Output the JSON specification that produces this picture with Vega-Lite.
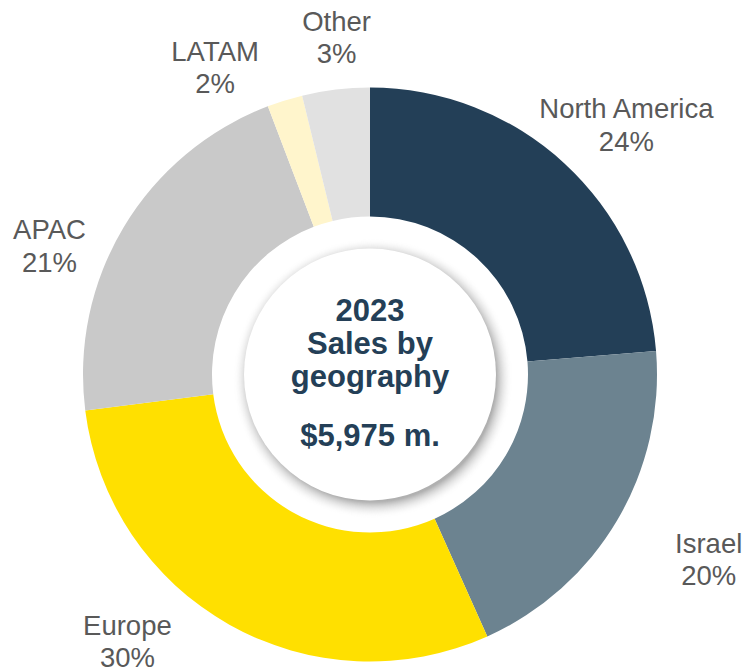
{
  "$schema": "https://vega.github.io/schema/vega-lite/v6.json",
  "autosize": "none",
  "width": 740,
  "height": 589,
  "padding": {"left": 0, "top": 80, "right": 5, "bottom": 0},
  "background": "white",
  "config": {"view": {"stroke": null}},
  "data": {
    "values": [
      {"region": "North America", "sales": 1416, "order": 1, "label": ["North America", "24%"]},
      {"region": "Israel", "sales": 1171, "order": 2, "label": ["Israel", "20%"]},
      {"region": "Europe", "sales": 1775, "order": 3, "label": ["Europe", "30%"]},
      {"region": "APAC", "sales": 1267, "order": 4, "label": ["APAC", "21%"]},
      {"region": "LATAM", "sales": 119, "order": 5, "label": ["LATAM", "2%"]},
      {"region": "Other", "sales": 227, "order": 6, "label": ["Other", "3%"]}
    ]
  },
  "layer": [
    {
      "mark": {"type": "arc", "outerRadius": 287, "innerRadius": 158},
      "encoding": {
        "theta": {"field": "sales", "type": "quantitative", "stack": true},
        "order": {"field": "order", "type": "quantitative"},
        "color": {
          "field": "region",
          "type": "nominal",
          "scale": {
            "domain": ["North America", "Israel", "Europe", "APAC", "LATAM", "Other"],
            "range": ["#233F57", "#6C8390", "#FFE000", "#C9C9C9", "#FFF5CC", "#E1E1E1"]
          },
          "legend": null
        }
      }
    },
    {
      "data": {"values": [{}]},
      "mark": {
        "type": "arc",
        "outerRadius": 140,
        "theta": 0,
        "theta2": 6.2832,
        "xOffset": 3,
        "yOffset": 4,
        "fill": {
          "gradient": "radial",
          "x1": 0.5, "y1": 0.5, "r1": 0,
          "x2": 0.5, "y2": 0.5, "r2": 0.5,
          "stops": [
            {"offset": 0, "color": "#a8a8a8"},
            {"offset": 0.88, "color": "#b0b0b0"},
            {"offset": 1, "color": "rgba(255,255,255,0)"}
          ]
        }
      },
      "encoding": {}
    },
    {
      "data": {"values": [{}]},
      "mark": {"type": "arc", "outerRadius": 126, "theta": 0, "theta2": 6.2832, "fill": "white"},
      "encoding": {}
    },
    {
      "data": {"values": [{}]},
      "mark": {
        "type": "text",
        "text": ["2023", "Sales by", "geography"],
        "font": "Liberation Sans",
        "fontWeight": "bold",
        "fontSize": 31,
        "lineHeight": 33,
        "color": "#243F57",
        "align": "center",
        "baseline": "middle",
        "dy": -63
      },
      "encoding": {}
    },
    {
      "data": {"values": [{}]},
      "mark": {
        "type": "text",
        "text": "$5,975 m.",
        "font": "Liberation Sans",
        "fontWeight": "bold",
        "fontSize": 31,
        "color": "#243F57",
        "align": "center",
        "baseline": "alphabetic",
        "dy": 71.5
      },
      "encoding": {}
    },
    {
      "mark": {"type": "text", "radius": 340, "font": "Liberation Sans", "fontSize": 27.5, "lineHeight": 32.5, "color": "#595959", "align": "center", "baseline": "middle", "dx": 26, "dy": -14},
      "encoding": {
        "theta": {"field": "sales", "type": "quantitative", "stack": true},
        "order": {"field": "order", "type": "quantitative"},
        "detail": {"field": "region", "type": "nominal"},
        "text": {"condition": {"test": "datum.region === 'North America'", "field": "label"}, "value": ""}
      }
    },
    {
      "mark": {"type": "text", "radius": 340, "font": "Liberation Sans", "fontSize": 27.5, "lineHeight": 32.5, "color": "#595959", "align": "center", "baseline": "middle", "dx": 46, "dy": -3},
      "encoding": {
        "theta": {"field": "sales", "type": "quantitative", "stack": true},
        "order": {"field": "order", "type": "quantitative"},
        "detail": {"field": "region", "type": "nominal"},
        "text": {"condition": {"test": "datum.region === 'Israel'", "field": "label"}, "value": ""}
      }
    },
    {
      "mark": {"type": "text", "radius": 340, "font": "Liberation Sans", "fontSize": 27.5, "lineHeight": 32.5, "color": "#595959", "align": "center", "baseline": "middle", "dx": -76, "dy": -44},
      "encoding": {
        "theta": {"field": "sales", "type": "quantitative", "stack": true},
        "order": {"field": "order", "type": "quantitative"},
        "detail": {"field": "region", "type": "nominal"},
        "text": {"condition": {"test": "datum.region === 'Europe'", "field": "label"}, "value": ""}
      }
    },
    {
      "mark": {"type": "text", "radius": 340, "font": "Liberation Sans", "fontSize": 27.5, "lineHeight": 32.5, "color": "#595959", "align": "center", "baseline": "middle", "dx": -29, "dy": 32},
      "encoding": {
        "theta": {"field": "sales", "type": "quantitative", "stack": true},
        "order": {"field": "order", "type": "quantitative"},
        "detail": {"field": "region", "type": "nominal"},
        "text": {"condition": {"test": "datum.region === 'APAC'", "field": "label"}, "value": ""}
      }
    },
    {
      "mark": {"type": "text", "radius": 340, "font": "Liberation Sans", "fontSize": 27.5, "lineHeight": 32.5, "color": "#595959", "align": "center", "baseline": "middle", "dx": -54, "dy": 3},
      "encoding": {
        "theta": {"field": "sales", "type": "quantitative", "stack": true},
        "order": {"field": "order", "type": "quantitative"},
        "detail": {"field": "region", "type": "nominal"},
        "text": {"condition": {"test": "datum.region === 'LATAM'", "field": "label"}, "value": ""}
      }
    },
    {
      "mark": {"type": "text", "radius": 340, "font": "Liberation Sans", "fontSize": 27.5, "lineHeight": 32.5, "color": "#595959", "align": "center", "baseline": "middle", "dx": 7, "dy": -14},
      "encoding": {
        "theta": {"field": "sales", "type": "quantitative", "stack": true},
        "order": {"field": "order", "type": "quantitative"},
        "detail": {"field": "region", "type": "nominal"},
        "text": {"condition": {"test": "datum.region === 'Other'", "field": "label"}, "value": ""}
      }
    }
  ]
}
